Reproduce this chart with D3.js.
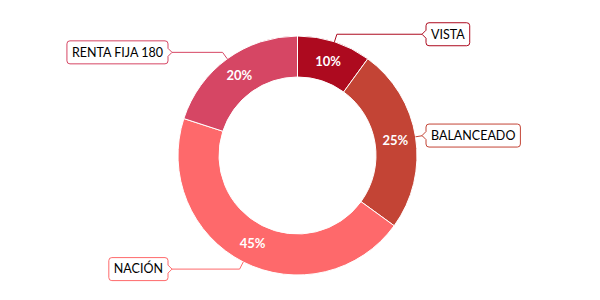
<!DOCTYPE html>
<html>
<head>
<meta charset="utf-8">
<script src="https://cdn.jsdelivr.net/npm/d3@7/dist/d3.min.js"></script>
<style>
  html, body { margin: 0; padding: 0; background: #fff; }
  svg { display: block; font-family: Lato, "Open Sans", sans-serif; }
</style>
</head>
<body>
<svg id="chart" width="600" height="300"></svg>
<script>
const categories = ["VISTA", "BALANCEADO", "NACIÓN", "RENTA FIJA 180"];
const values = [10, 25, 45, 20];
const colors = ["#ad0a1f", "#c34435", "#fe696b", "#d64664"];

const W = 600, H = 300;
const cx = 297.5, cy = 155.5;
const rOuter = 119.5, rInner = 78.5, labelDist = 8;

const svg = d3.select("#chart");
const g = svg.append("g").attr("transform", `translate(${cx},${cy})`);

const data = categories.map((c, i) => ({ name: c, value: values[i], color: colors[i] }));
const total = d3.sum(values);

const pie = d3.pie().value(d => d.value).sort(null);
const arcs = pie(data);
const arc = d3.arc().innerRadius(rInner).outerRadius(rOuter);
const midArc = d3.arc().innerRadius(99).outerRadius(99);

g.selectAll("path.slice").data(arcs).enter().append("path")
  .attr("class", "slice")
  .attr("d", arc)
  .attr("fill", d => d.data.color)
  .attr("stroke", "#ffffff")
  .attr("stroke-width", 1);

g.selectAll("text.pct").data(arcs).enter().append("text")
  .attr("class", "pct")
  .attr("transform", d => `translate(${midArc.centroid(d)})`)
  .attr("text-anchor", "middle")
  .attr("dy", "0.35em")
  .attr("fill", "#fff")
  .attr("font-weight", "bold")
  .attr("font-size", 13)
  .text(d => Math.round(d.data.value / total * 100) + "%");

// callouts
const rightAnchorX = 422 - cx, leftAnchorX = 172 - cx;
const ptr = 4, boxH = 23, pad = 5, rad = 3;

arcs.forEach(d => {
  const a = (d.startAngle + d.endAngle) / 2;
  const sx = Math.sin(a) * rOuter, sy = -Math.cos(a) * rOuter;
  const kx = Math.sin(a) * (rOuter + labelDist), ky = -Math.cos(a) * (rOuter + labelDist);
  const right = Math.sin(a) >= 0;
  const ax = right ? rightAnchorX : leftAnchorX;
  const color = d.data.color;

  g.append("path")
    .attr("d", `M${sx},${sy}L${kx},${ky}L${ax},${ky}`)
    .attr("fill", "none")
    .attr("stroke", color)
    .attr("stroke-width", 1);

  const lg = g.append("g");
  const txt = lg.append("text")
    .attr("font-size", 12.5)
    .attr("fill", "#000")
    .attr("dy", "0.35em")
    .text(d.data.name);
  const tw = txt.node().getComputedTextLength();
  const bw = tw + pad * 2;
  let x0, x1;
  if (right) { x0 = ax + ptr; x1 = x0 + bw; }
  else { x1 = ax - ptr; x0 = x1 - bw; }
  const y0 = ky - boxH / 2, y1 = ky + boxH / 2;
  let p;
  if (right) {
    p = `M${x0 + rad},${y0}L${x1 - rad},${y0}Q${x1},${y0} ${x1},${y0 + rad}L${x1},${y1 - rad}Q${x1},${y1} ${x1 - rad},${y1}` +
        `L${x0 + rad},${y1}Q${x0},${y1} ${x0},${y1 - rad}L${x0},${ky + ptr}L${ax},${ky}L${x0},${ky - ptr}L${x0},${y0 + rad}Q${x0},${y0} ${x0 + rad},${y0}Z`;
  } else {
    p = `M${x0 + rad},${y0}L${x1 - rad},${y0}Q${x1},${y0} ${x1},${y0 + rad}L${x1},${ky - ptr}L${ax},${ky}L${x1},${ky + ptr}L${x1},${y1 - rad}Q${x1},${y1} ${x1 - rad},${y1}` +
        `L${x0 + rad},${y1}Q${x0},${y1} ${x0},${y1 - rad}L${x0},${y0 + rad}Q${x0},${y0} ${x0 + rad},${y0}Z`;
  }
  lg.insert("path", "text")
    .attr("d", p)
    .attr("fill", "#fff")
    .attr("stroke", color)
    .attr("stroke-width", 1);
  txt.attr("x", x0 + pad).attr("y", ky);
});
</script>
</body>
</html>
